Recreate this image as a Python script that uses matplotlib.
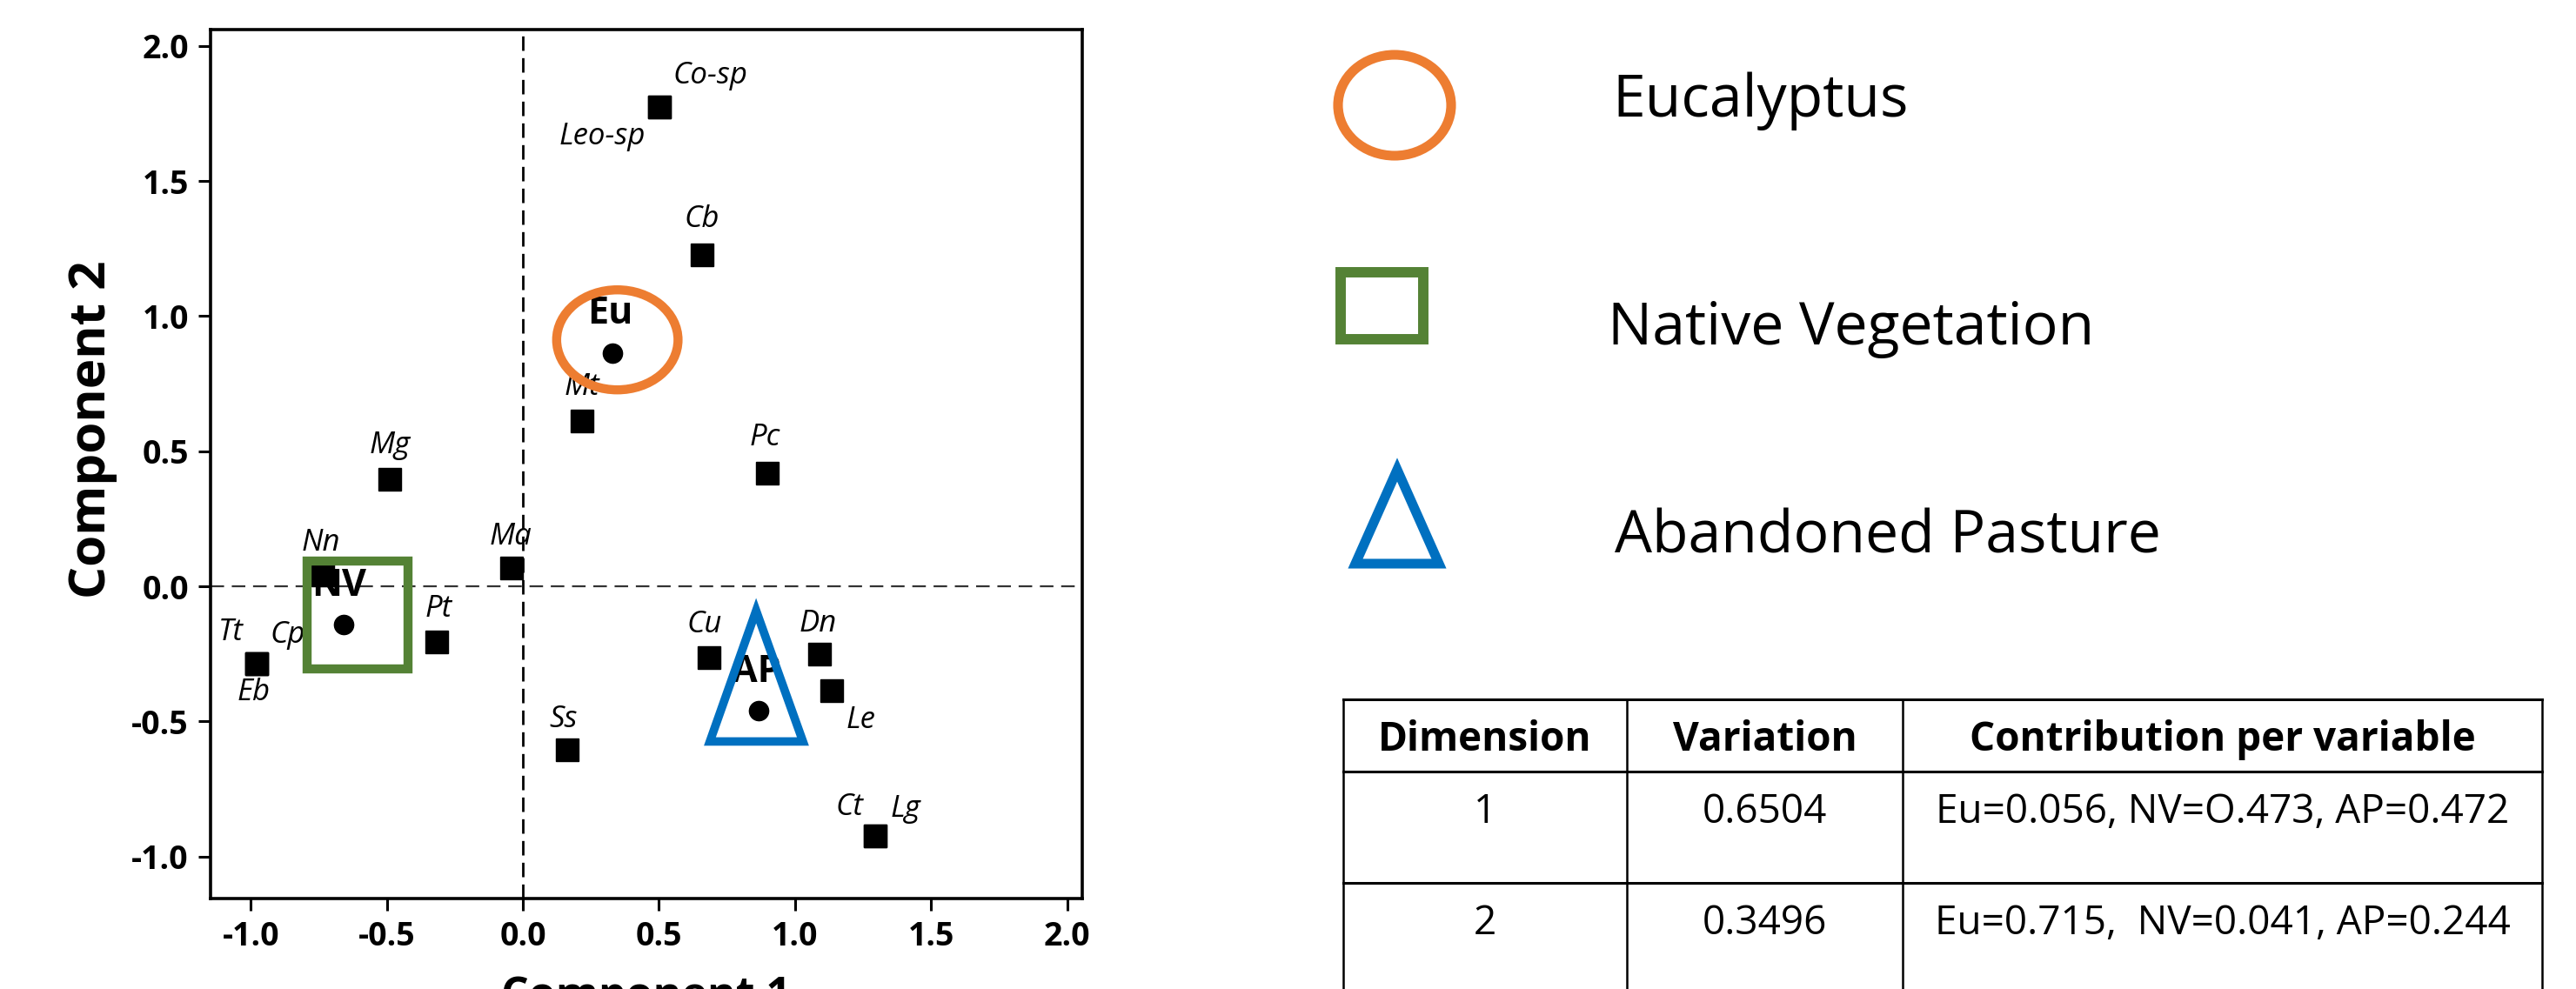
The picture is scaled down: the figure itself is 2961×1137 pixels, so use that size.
import numpy as np
import matplotlib
matplotlib.use("Agg")
import matplotlib.pyplot as plt
from matplotlib.patches import Ellipse, Rectangle, Polygon

plt.rcParams['font.family'] = ['Open Sans', 'DejaVu Sans']
plt.rcParams['axes.unicode_minus'] = False

# ============= DATA =============
species = ['Co-sp', 'Leo-sp', 'Cb', 'Mt', 'Pc', 'Mg', 'Ma', 'Nn', 'Pt',
           'Tt', 'Cp', 'Eb', 'Cu', 'Dn', 'Le', 'Ss', 'Ct', 'Lg']
species_x = [0.501, 0.501, 0.658, 0.218, 0.899, -0.488, -0.042, -0.735, -0.318,
             -0.979, -0.979, -0.979, 0.684, 1.090, 1.135, 0.162, 1.294, 1.294]
species_y = [1.773, 1.773, 1.228, 0.612, 0.420, 0.397, 0.067, 0.041, -0.207,
             -0.286, -0.286, -0.286, -0.263, -0.251, -0.387, -0.605, -0.925, -0.925]

groups = ['Eu', 'NV', 'AP']
group_x = [0.329, -0.658, 0.865]
group_y = [0.863, -0.141, -0.460]

legend_names = ['Eucalyptus', 'Native Vegetation', 'Abandoned Pasture']

table_header = ['Dimension', 'Variation', 'Contribution per variable']
dimensions = ['1', '2']
variations = ['0.6504', '0.3496']
contributions = ['Eu=0.056, NV=O.473, AP=0.472', 'Eu=0.715,  NV=0.041, AP=0.244']

# label offsets in points (layout only)
species_offsets = [(42, 26), (-47, -24), (0, 29), (0, 28), (-2, 29), (0, 28),
                   (-1, 26), (-2, 27), (2, 28), (-21, 26), (26, 24), (-2, -24),
                   (-4, 27), (-1, 25), (24, -24), (-3, 25), (-21, 24), (25, 23)]
group_offsets = [(-2, 33), (-4, 32), (-2, 32)]

ORANGE = '#ED7D31'
GREEN = '#548235'
BLUE = '#0070C0'

# ============= FIGURE =============
fig = plt.figure(figsize=(29.61, 11.37), dpi=100)
ax = fig.add_axes([0.0817, 0.0915, 0.3384, 0.8786])

ax.axvline(0, color='black', lw=2, ls=(0, (6, 3)), zorder=1)
ax.axhline(0, color='#333333', lw=1.6, ls=(0, (7, 4)), zorder=1)

ax.plot(species_x, species_y, 's', color='black', ms=19, zorder=3)
ax.plot(group_x, group_y, 'o', color='black', ms=16, zorder=3)

for name, x, y, off in zip(species, species_x, species_y, species_offsets):
    ax.annotate(name, (x, y), xytext=off, textcoords='offset points',
                ha='center', va='center', fontsize=25, style='italic', zorder=4)
for name, x, y, off in zip(groups, group_x, group_y, group_offsets):
    ax.annotate(name, (x, y), xytext=off, textcoords='offset points',
                ha='center', va='center', fontsize=31, fontweight='bold', zorder=4)

# group outlines
ax.add_patch(Ellipse((0.347, 0.912), 0.446, 0.37, fill=False, ec=ORANGE, lw=7.5, zorder=5))
ax.add_patch(Rectangle((-0.793, -0.307), 0.371, 0.402, fill=False, ec=GREEN, lw=7.5, zorder=5))
ax.add_patch(Polygon([(0.857, -0.09), (0.687, -0.574), (1.029, -0.574)], closed=True,
                     fill=False, ec=BLUE, lw=7, joinstyle='miter', zorder=5))

ax.set_xlim(-1.148, 2.055)
ax.set_ylim(-1.155, 2.06)
ticks = np.arange(-1.0, 2.01, 0.5)
ax.set_xticks(ticks)
ax.set_yticks(ticks)
ax.set_xticklabels([f'{v:.1f}' for v in ticks])
ax.set_yticklabels([f'{v:.1f}' for v in ticks])
ax.tick_params(direction='out', length=10, width=2.2, labelsize=27, pad=8)
for lab in ax.get_xticklabels() + ax.get_yticklabels():
    lab.set_fontweight('bold')
for sp in ax.spines.values():
    sp.set_linewidth(2.6)
ax.set_xlabel('Component 1', fontsize=36, fontweight='bold', labelpad=18)
ax.set_ylabel('Component 2', fontsize=42, fontweight='bold', labelpad=12, y=0.54)

# ============= LEGEND + TABLE (pixel overlay) =============
ov = fig.add_axes([0, 0, 1, 1], zorder=10)
ov.set_xlim(0, 2961)
ov.set_ylim(1137, 0)
ov.axis('off')
ov.patch.set_alpha(0)

ov.add_patch(Ellipse((1603, 121), 130, 116, fill=False, ec=ORANGE, lw=8))
ov.add_patch(Rectangle((1541, 313), 95, 77, fill=False, ec=GREEN, lw=8.6))
ov.add_patch(Polygon([(1606, 540), (1558, 648), (1654, 648)], closed=True,
                     fill=False, ec=BLUE, lw=8, joinstyle='miter'))
for name, x, y in zip(legend_names, [1853, 1848, 1856], [134, 396, 636]):
    ov.text(x, y, name, fontsize=49, ha='left', va='baseline')

col_x = [1544, 1870, 2187, 2922]
row_y = [804, 887, 1015, 1160]
for y in row_y[:3]:
    ov.plot([col_x[0], col_x[-1]], [y, y], color='black', lw=2.2)
for x in col_x:
    ov.plot([x, x], [row_y[0], row_y[-1]], color='black', lw=1.8)

centers = [(col_x[i] + col_x[i + 1]) / 2 for i in range(3)]
for c, h in zip(centers, table_header):
    ov.text(c, 863, h, fontsize=33, fontweight='bold', ha='center', va='baseline')
for row, base in zip(zip(dimensions, variations, contributions), [946, 1074]):
    for c, val in zip(centers, row):
        ov.text(c, base, val, fontsize=33, ha='center', va='baseline')

fig.savefig('out.png', dpi=100)
